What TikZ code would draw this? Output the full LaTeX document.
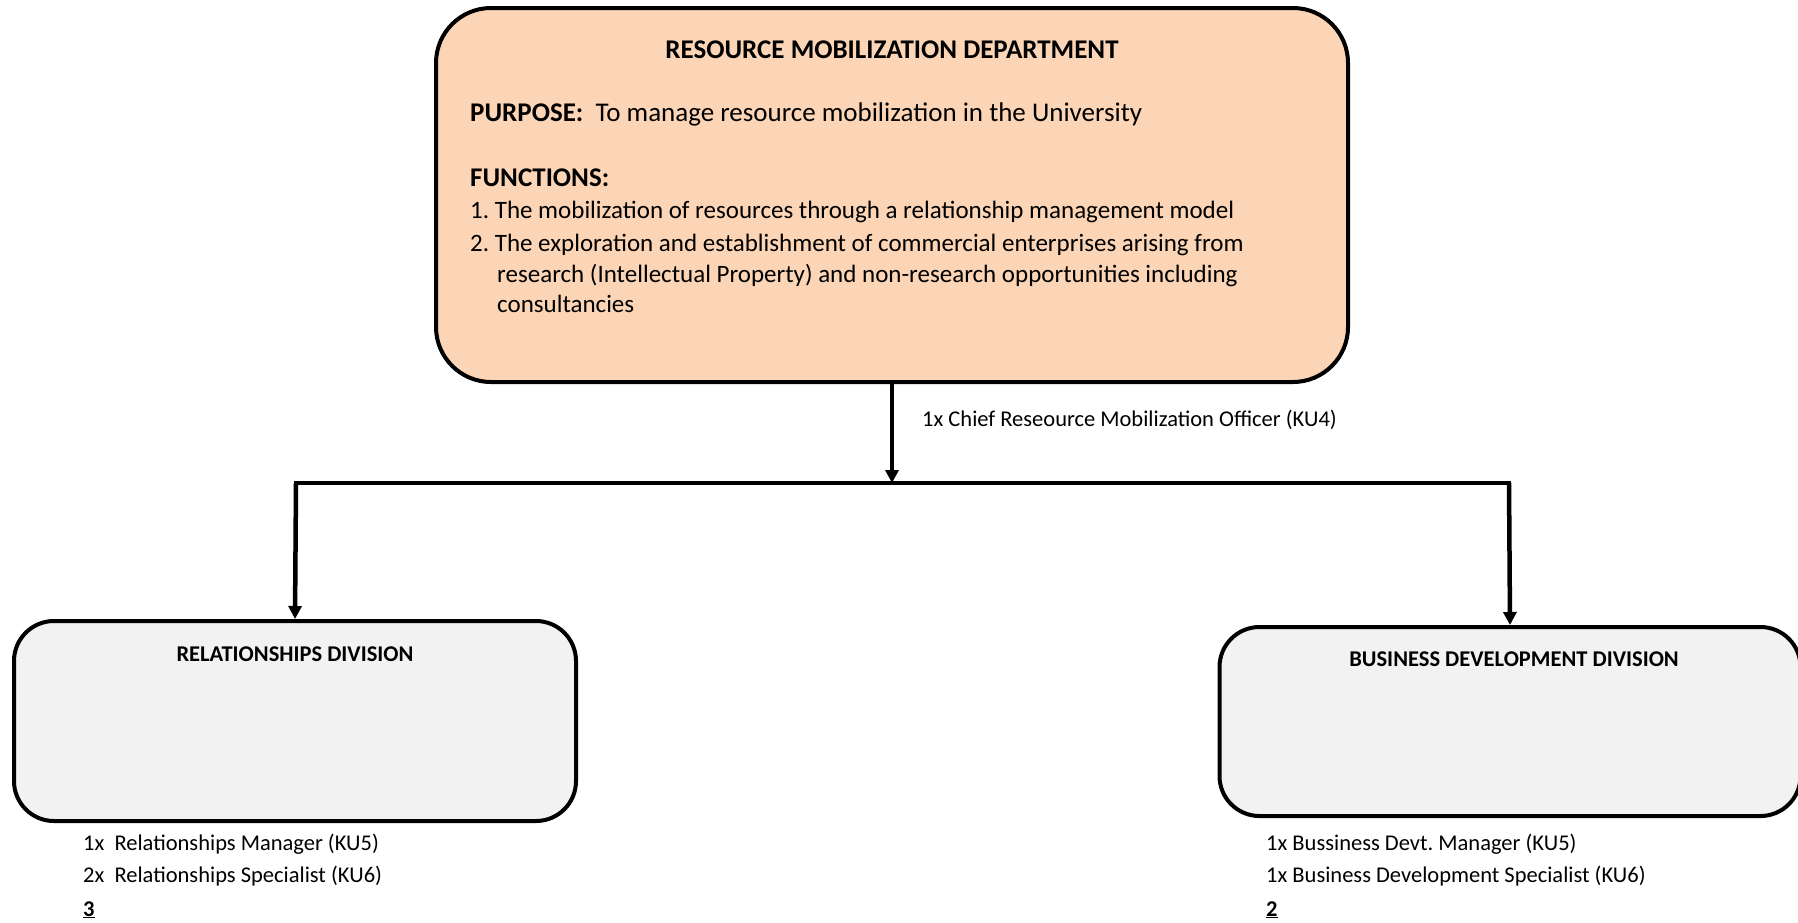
\documentclass[tikz,border=0pt]{standalone}
\usepackage{fontspec}
\setmainfont{Carlito}
\usetikzlibrary{arrows.meta}
\definecolor{peach}{HTML}{FBD5B5}
\definecolor{lightgray}{HTML}{F2F2F2}
\frenchspacing
\begin{document}
\begin{tikzpicture}[x=1pt,y=-1pt,
  box/.style={draw=black,line width=4pt,rounded corners=55pt,inner sep=0pt},
  big/.style={font=\fontsize{27}{33}\selectfont,inner sep=0pt,anchor=base west},
  fn/.style={font=\fontsize{25}{30}\selectfont,inner sep=0pt,anchor=base west},
  small/.style={font=\fontsize{22.5}{27}\selectfont,inner sep=0pt,anchor=base west},
  divt/.style={font=\fontsize{22.5}{27}\selectfont\bfseries,inner sep=0pt,anchor=base},
  conn/.style={line width=4.5pt},
  arr/.style={line width=4.5pt,-{Triangle[length=13pt,width=13pt]}}]
\useasboundingbox (0,0) rectangle (1798,922);
% boxes
\node[box,fill=peach,minimum width=912pt,minimum height=374pt] (top) at (892,195) {};
\node[box,fill=lightgray,minimum width=562pt,minimum height=200pt,rounded corners=40pt] (rel) at (295,721) {};
\node[box,fill=lightgray,minimum width=581pt,minimum height=189pt,rounded corners=40pt] (bus) at (1510,721.5) {};
% top box text
\node[font=\fontsize{27}{33}\selectfont\bfseries,inner sep=0pt,anchor=base] (ttl) at (892,58) {RESOURCE MOBILIZATION DEPARTMENT};
\node[big] (purp) at (470,121) {\textbf{PURPOSE:}\ \ To manage resource mobilization in the University};
\node[big] (func) at (470,186) {\textbf{FUNCTIONS:}};
\node[fn] (f1) at (470,218) {1. The mobilization of resources through a relationship management model};
\node[fn] (f2) at (470,251) {2. The exploration and establishment of commercial enterprises arising from};
\node[fn] (f2b) at (497,282) {research (Intellectual Property) and non-research opportunities including};
\node[fn] (f2c) at (497,312) {consultancies};
% connectors
\coordinate (j) at (892,483);
\coordinate (jl) at (296,483);
\coordinate (jr) at (1509,483);
\draw[arr] (top.south) -- (j);
\draw[conn,line cap=rect] (jl) -- (jr);
\draw[arr] (jl) -- (rel.north);
\draw[arr] (jr) -- (bus.north);
\node[small] (chief) at (922,426) {1x Chief Reseource Mobilization Officer (KU4)};
% division titles
\node[divt] (relt) at (295,661) {RELATIONSHIPS DIVISION};
\node[divt] (bust) at (1514,666) {BUSINESS DEVELOPMENT DIVISION};
% staffing
\node[small] (r1) at (83,850) {1x\ \ Relationships Manager (KU5)};
\node[small] (r2) at (83,882) {2x\ \ Relationships Specialist (KU6)};
\node[small] (r3) at (83,916) {\textbf{\underline{3}}};
\node[small] (b1) at (1266,850) {1x Bussiness Devt. Manager (KU5)};
\node[small] (b2) at (1266,882) {1x Business Development Specialist (KU6)};
\node[small] (b3) at (1266,916) {\textbf{\underline{2}}};
\end{tikzpicture}
\end{document}
